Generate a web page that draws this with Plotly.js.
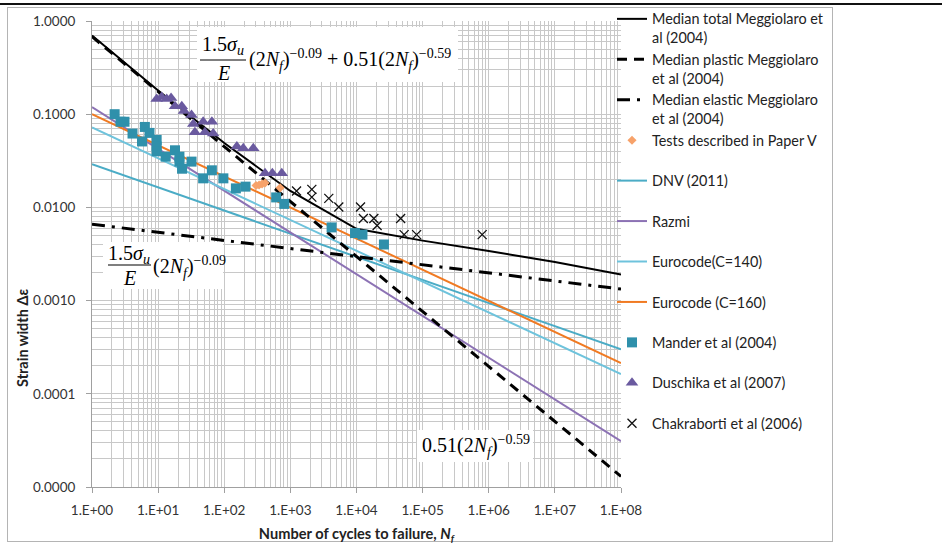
<!DOCTYPE html>
<html>
<head>
<meta charset="utf-8">
<script src="https://cdn.plot.ly/plotly-3.0.1.min.js"></script>
<style>
  html, body { margin: 0; padding: 0; background: #ffffff; }
  #topline { position: absolute; left: 0; top: 3px; width: 942px; height: 2px; background: #111; }
  #frame { position: absolute; left: 7px; top: 7px; width: 824px; height: 533px; border: 1px solid #b4b4b4; }
  #chart { position: absolute; left: 0; top: 0; width: 942px; height: 544px; }
</style>
</head>
<body>
<div id="topline"></div>
<div id="frame"></div>
<div id="chart"></div>
<script>
// ---------------- data ----------------
const curveEnds = [1, 1e8];

const totalN   = [1, 10, 100, 1e3, 1e4, 1e5, 1e6, 1e7, 1e8];
const totalEps = [0.70, 0.18, 0.049, 0.015, 0.0059, 0.0044, 0.0034, 0.0026, 0.0019];

const plasticEps = [0.68, 0.000013];
const elasticEps = [0.0066, 0.00133];
const dnvEps     = [0.029, 0.00030];
const razmiEps   = [0.119, 0.000031];
const euro140Eps = [0.072, 0.000163];
const euro160Eps = [0.100, 0.000214];

const paperVN   = [303, 336, 373, 414, 699];
const paperVEps = [0.0172, 0.0174, 0.0178, 0.0183, 0.0162];

const manderN   = [2.2, 2.7, 3.1, 4.1, 5.7, 6.3, 7.4, 9.5, 9.5, 9.5, 13, 18, 21, 21, 23, 32, 48, 65, 97, 150, 210, 610, 810, 4200, 9500, 12300, 26000];
const manderEps = [0.100, 0.083, 0.083, 0.062, 0.051, 0.073, 0.063, 0.053, 0.045, 0.040, 0.035, 0.041, 0.035, 0.031, 0.026, 0.031, 0.0205, 0.025, 0.0205, 0.016, 0.0167, 0.0128, 0.0109, 0.0061, 0.0053, 0.0051, 0.0040];

const duschikaN   = [9.5, 11.3, 13.5, 15.7, 18, 22.8, 24.6, 32, 34, 36, 48, 51, 65, 68, 155, 194, 275, 414, 534, 741];
const duschikaEps = [0.146, 0.153, 0.146, 0.149, 0.122, 0.122, 0.108, 0.098, 0.0785, 0.064, 0.083, 0.064, 0.083, 0.062, 0.045, 0.043, 0.043, 0.0232, 0.0232, 0.0232];

const chakN   = [1240, 2110, 2110, 3810, 5400, 11500, 12700, 18300, 20500, 46500, 52500, 81100, 795000];
const chakEps = [0.0150, 0.0156, 0.0129, 0.0125, 0.0101, 0.0101, 0.0076, 0.0076, 0.0064, 0.0076, 0.0051, 0.0051, 0.0051];

const xTickVals = [1, 10, 100, 1e3, 1e4, 1e5, 1e6, 1e7, 1e8];
const xTickText = ['1.E+00', '1.E+01', '1.E+02', '1.E+03', '1.E+04', '1.E+05', '1.E+06', '1.E+07', '1.E+08'];
const yTickVals = [1e-5, 1e-4, 1e-3, 1e-2, 1e-1, 1];
const yTickText = ['0.0000', '0.0001', '0.0010', '0.0100', '0.1000', '1.0000'];

// ---------------- layout geometry ----------------
const W = 942, H = 544;
const M = {l: 92, r: 321, t: 21, b: 57, autoexpand: false};
const PW = W - M.l - M.r, PH = H - M.t - M.b;
const xp = px => (px - M.l) / PW;
const yp = py => (H - M.b - py) / PH;

function minorVals(lo, hi) {
  const v = [];
  for (let e = lo; e < hi; e++) for (let k = 2; k <= 9; k++) v.push(k * Math.pow(10, e));
  return v;
}

const TXT = 'Lato, "Open Sans", sans-serif';
const SERIF = '"Liberation Serif", "DejaVu Serif", serif';
const noLeg = '<br>\u00a0';

const traces = [
  {x: curveEnds, y: dnvEps, name: 'DNV (2011)' + noLeg, legendrank: 5,
   mode: 'lines', line: {color: '#4BACC6', width: 2}},
  {x: curveEnds, y: razmiEps, name: 'Razmi' + noLeg, legendrank: 6,
   mode: 'lines', line: {color: '#8C72B4', width: 2}},
  {x: curveEnds, y: euro140Eps, name: 'Eurocode(C=140)' + noLeg, legendrank: 7,
   mode: 'lines', line: {color: '#6EC3DC', width: 2}},
  {x: curveEnds, y: euro160Eps, name: 'Eurocode (C=160)' + noLeg, legendrank: 8,
   mode: 'lines', line: {color: '#F07A22', width: 2}},
  {x: curveEnds, y: elasticEps, name: 'Median elastic Meggiolaro<br>et al (2004)', legendrank: 3,
   mode: 'lines', line: {color: '#000', width: 3, dash: '13px,7px,3px,7px'}},
  {x: curveEnds, y: plasticEps, name: 'Median plastic Meggiolaro<br>et al (2004)', legendrank: 2,
   mode: 'lines', line: {color: '#000', width: 3, dash: '10px,7px'}},
  {x: totalN, y: totalEps, name: 'Median total Meggiolaro et<br>al (2004)', legendrank: 1,
   mode: 'lines', line: {color: '#000', width: 2}},
  {x: manderN, y: manderEps, name: 'Mander et al (2004)' + noLeg, legendrank: 9,
   mode: 'markers', marker: {symbol: 'square', size: 10, color: '#2F90AB'}},
  {x: duschikaN, y: duschikaEps, name: 'Duschika et al (2007)' + noLeg, legendrank: 10,
   mode: 'markers', marker: {symbol: 'triangle-up', size: 11, color: '#6A5A9F'}},
  {x: paperVN, y: paperVEps, name: 'Tests described in Paper V' + noLeg, legendrank: 4,
   mode: 'markers', marker: {symbol: 'diamond', size: 7, color: '#F7A26A'}},
  {x: chakN, y: chakEps, name: 'Chakraborti et al (2006)' + noLeg, legendrank: 11,
   mode: 'markers', marker: {symbol: 'x-thin', size: 9, color: '#000', line: {color: '#111', width: 1.3}}}
];

const gridC = '#c8c8c8';
const tickFont = {family: TXT, size: 13.5, color: '#333'};

const shapes = [
  {type: 'rect', xref: 'paper', yref: 'paper', x0: xp(197), x1: xp(458), y0: yp(82), y1: yp(27),
   fillcolor: '#fff', line: {width: 0}, layer: 'above'},
  {type: 'rect', xref: 'paper', yref: 'paper', x0: xp(103), x1: xp(223), y0: yp(289), y1: yp(242),
   fillcolor: '#fff', line: {width: 0}, layer: 'above'},
  {type: 'rect', xref: 'paper', yref: 'paper', x0: xp(417), x1: xp(533), y0: yp(462), y1: yp(430),
   fillcolor: '#fff', line: {width: 0}, layer: 'above'},
  {type: 'line', xref: 'paper', yref: 'paper', x0: xp(200), x1: xp(246), y0: yp(60), y1: yp(60),
   line: {color: '#000', width: 1.2}, layer: 'above'},
  {type: 'line', xref: 'paper', yref: 'paper', x0: xp(108), x1: xp(151), y0: yp(265), y1: yp(265),
   line: {color: '#000', width: 1.2}, layer: 'above'}
];

const fF = {family: SERIF, size: 20, color: '#000'};
const ann = (px, py, text, xanchor, extra) => Object.assign({
  xref: 'paper', yref: 'paper', x: xp(px), y: yp(py), text: text, showarrow: false,
  xanchor: xanchor || 'center', yanchor: 'middle', font: fF
}, extra || {});

const annotations = [
  ann(223, 46, '1.5<i>σ</i><sub><i>u</i></sub>'),
  ann(223, 73, '<i>E</i>'),
  ann(247, 60, '(2<i>N</i><sub><i>f</i></sub>)<sup>−0.09</sup> + 0.51(2<i>N</i><sub><i>f</i></sub>)<sup>−0.59</sup>', 'left'),
  ann(129, 254, '1.5<i>σ</i><sub><i>u</i></sub>'),
  ann(129, 278, '<i>E</i>'),
  ann(151, 267, '(2<i>N</i><sub><i>f</i></sub>)<sup>−0.09</sup>', 'left'),
  ann(420, 446, '0.51(2<i>N</i><sub><i>f</i></sub>)<sup>−0.59</sup>', 'left'),
  {xref: 'paper', yref: 'paper', x: xp(22), y: yp(338), text: '<b>Strain width Δε</b>', showarrow: false,
   textangle: -90, xanchor: 'center', yanchor: 'middle', font: {family: TXT, size: 14.5, color: '#222'}}
];

const layout = {
  width: W, height: H, autosize: false,
  margin: M,
  paper_bgcolor: 'rgba(0,0,0,0)', plot_bgcolor: '#fff',
  showlegend: true,
  legend: {x: xp(612), xanchor: 'left', y: yp(3), yanchor: 'top', bgcolor: 'rgba(0,0,0,0)',
           font: {family: TXT, size: 14.4, color: '#222'}, valign: 'top', tracegroupgap: 0, itemwidth: 30,
           maxheight: 560},
  xaxis: {type: 'log', range: [0, 8], tickmode: 'array', tickvals: xTickVals, ticktext: xTickText,
          showgrid: true, gridcolor: gridC, gridwidth: 1,
          minor: {tickmode: 'array', tickvals: minorVals(0, 8), showgrid: true, gridcolor: gridC, gridwidth: 1, ticks: ''},
          showline: true, linecolor: '#a0a0a0', linewidth: 1, ticks: 'outside', ticklen: 5, tickcolor: '#a0a0a0',
          ticklabelstandoff: 6, tickfont: tickFont, zeroline: false, automargin: false,
          title: {text: '<b>Number of cycles to failure, <i>N</i><sub><i>f</i></sub></b>', font: {family: TXT, size: 14.6, color: '#222'}, standoff: 12}},
  yaxis: {type: 'log', range: [-5, 0], tickmode: 'array', tickvals: yTickVals, ticktext: yTickText,
          showgrid: true, gridcolor: gridC, gridwidth: 1,
          minor: {tickmode: 'array', tickvals: minorVals(-5, 0), showgrid: true, gridcolor: gridC, gridwidth: 1, ticks: ''},
          showline: true, linecolor: '#a0a0a0', linewidth: 1, ticks: 'outside', ticklen: 5, tickcolor: '#a0a0a0',
          ticklabelstandoff: 8, tickfont: tickFont, zeroline: false, automargin: false},
  shapes: shapes,
  annotations: annotations
};

Plotly.newPlot('chart', traces, layout, {displayModeBar: false, staticPlot: true});
</script>
</body>
</html>
